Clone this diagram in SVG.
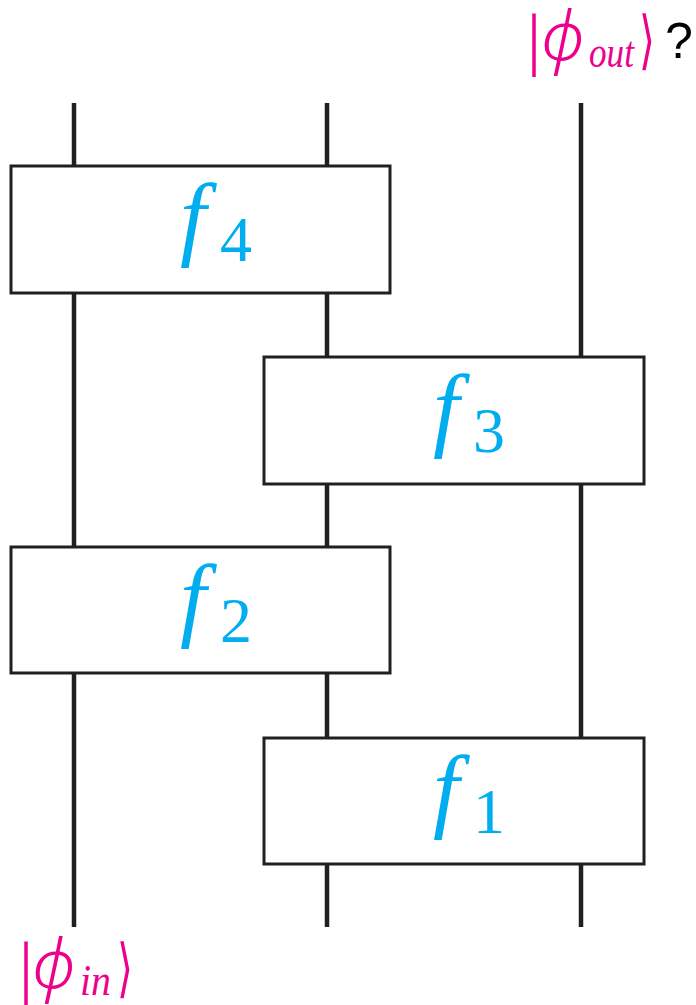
<svg xmlns="http://www.w3.org/2000/svg" width="696" height="1005" viewBox="0 0 696 1005">
<style>
.wire{stroke:#231f20;stroke-width:4.5;fill:none}
.box{fill:#fff;stroke:#231f20;stroke-width:3}
.fn{font-family:"Liberation Serif","DejaVu Serif",serif;font-style:italic;font-size:94px;fill:#00aeef}
.sub{font-family:"Liberation Serif","DejaVu Serif",serif;font-size:64px;fill:#00aeef}
.bar{font-family:"Liberation Serif","DejaVu Serif",serif;fill:#ec008c}
.ket{font-family:"DejaVu Serif","Liberation Serif",serif;fill:#ec008c}
.phi{font-family:"Noto Sans","DejaVu Sans",sans-serif;font-style:italic;font-weight:300;fill:#ec008c}
.ketI{font-family:"Liberation Serif","DejaVu Serif",serif;font-style:italic;fill:#ec008c}
</style>
<rect width="696" height="1005" fill="#fff"/>
<g id="connectors">
<line class="wire" x1="74" y1="103" x2="74" y2="166"/>
<line class="wire" x1="74" y1="293" x2="74" y2="547"/>
<line class="wire" x1="74" y1="673" x2="74" y2="927"/>
<line class="wire" x1="327" y1="103" x2="327" y2="166"/>
<line class="wire" x1="327" y1="293" x2="327" y2="357"/>
<line class="wire" x1="327" y1="484" x2="327" y2="547"/>
<line class="wire" x1="327" y1="673" x2="327" y2="738"/>
<line class="wire" x1="327" y1="864" x2="327" y2="927"/>
<line class="wire" x1="581" y1="103" x2="581" y2="357"/>
<line class="wire" x1="581" y1="484" x2="581" y2="738"/>
<line class="wire" x1="581" y1="864" x2="581" y2="927"/>
</g>
<g id="f4">
<rect class="box" x="11" y="166" width="379" height="127"/>
<text class="fn" x="180" y="248">f</text><text class="sub" x="220" y="261">4</text>
</g>
<g id="f3">
<rect class="box" x="264" y="357" width="380" height="127"/>
<text class="fn" x="433" y="439">f</text><text class="sub" x="473" y="452">3</text>
</g>
<g id="f2">
<rect class="box" x="11" y="547" width="379" height="126"/>
<text class="fn" x="180" y="629">f</text><text class="sub" x="220" y="642">2</text>
</g>
<g id="f1">
<rect class="box" x="264" y="738" width="380" height="126"/>
<text class="fn" x="433" y="820">f</text><text class="sub" x="473" y="833">1</text>
</g>
<g id="phi_out">
<text class="bar" x="527" y="62" font-size="70">|</text>
<text class="phi" x="541" y="60" font-size="68">ϕ</text>
<text class="ketI" x="589" y="67" font-size="44" textLength="45" lengthAdjust="spacingAndGlyphs">out</text>
<text class="ket" x="639" y="62" font-size="64" textLength="16" lengthAdjust="spacingAndGlyphs">⟩</text>
<text x="665" y="58" font-family="Liberation Sans,Arial,sans-serif" font-size="50" fill="#000">?</text>
</g>
<g id="phi_in">
<text class="bar" x="19" y="990" font-size="70">|</text>
<text class="phi" x="32" y="988" font-size="68">ϕ</text>
<text class="ketI" x="80" y="995" font-size="44" textLength="31" lengthAdjust="spacingAndGlyphs">in</text>
<text class="ket" x="117" y="990" font-size="64" textLength="16" lengthAdjust="spacingAndGlyphs">⟩</text>
</g>
</svg>
